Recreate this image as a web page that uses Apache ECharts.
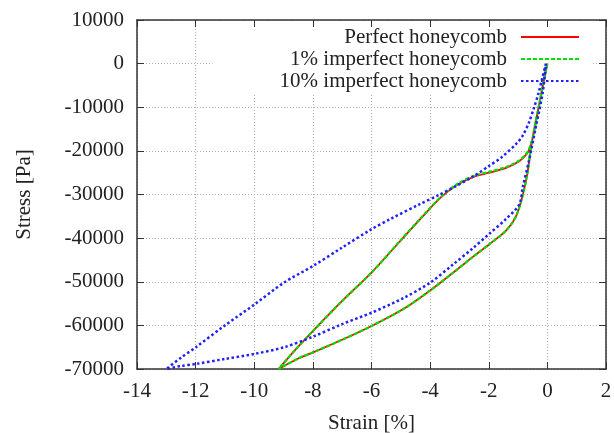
<!DOCTYPE html>
<html>
<head>
<meta charset="utf-8">
<script src="https://cdn.jsdelivr.net/npm/echarts@6/dist/echarts.min.js"></script>
<style>
  html, body { margin: 0; padding: 0; background: #fff; }
  #chart { width: 614px; height: 433px; }
</style>
</head>
<body>
<div id="chart"></div>
<script>
// Stress-strain loops: loading branch then unloading branch, in path order.
const seriesNames = ['Perfect honeycomb', '1% imperfect honeycomb', '10% imperfect honeycomb'];

const perfectStrain = [0, -0.12, -0.25, -0.38, -0.5, -0.57, -0.68, -0.96, -1.41, -1.98, -2.54, -3.1, -3.67, -4.33, -5.01, -6.0, -7.0, -8.0, -8.6, -9.17,
  -8.5, -8.0, -7.0, -6.0, -4.9, -4.0, -3.21, -2.54, -1.98, -1.41, -1.07, -0.85, -0.68, -0.57, -0.42, -0.27, -0.13, 0];
const perfectStress = [0, -4000, -8500, -13000, -17000, -18700, -20500, -22400, -23900, -25000, -26000, -27900, -30900, -35600, -40600, -47900, -54400, -61300, -65600, -70000,
  -67600, -66200, -63300, -60150, -56200, -52000, -47900, -44300, -41400, -38300, -35000, -30400, -25100, -19700, -14000, -9000, -4000, 0];

const imperf1Strain = [0, -0.12, -0.25, -0.38, -0.5, -0.57, -0.68, -0.96, -1.41, -1.98, -2.54, -3.1, -3.67, -4.33, -5.01, -6.0, -7.0, -8.0, -8.6, -9.17,
  -8.5, -8.0, -7.0, -6.0, -4.9, -4.0, -3.21, -2.54, -1.98, -1.41, -1.07, -0.85, -0.68, -0.57, -0.42, -0.27, -0.13, 0];
const imperf1Stress = [0, -4000, -8500, -13000, -17000, -18600, -20300, -22200, -23700, -24800, -25800, -27700, -30800, -35500, -40500, -47900, -54400, -61300, -65600, -70000,
  -67600, -66200, -63300, -60150, -56200, -52000, -47900, -44300, -41400, -38300, -35000, -30400, -25100, -19700, -14000, -9000, -4000, 0];

const imperf10Strain = [-0.05, -0.18, -0.3, -0.45, -0.63, -0.85, -1.05, -1.55, -2.0, -2.54, -3.21, -3.67, -4.38, -5.35, -6.0, -7.0, -8.0, -9.0, -10.0, -11.0, -12.0, -12.5, -13.0,
  -12.5, -12.0, -11.0, -10.0, -9.0, -8.0, -7.0, -6.0, -4.9, -4.0, -3.21, -2.54, -1.98, -1.41, -0.96, -0.84, -0.62, -0.39, -0.16, -0.05];
const imperf10Stress = [0, -3500, -6700, -10000, -13500, -16600, -18300, -21400, -23500, -25900, -28400, -30000, -32300, -35600, -37950, -42150, -46400, -50250, -55250, -60000, -65050, -67400, -70000,
  -69300, -68850, -67700, -66550, -65050, -62600, -59700, -57100, -53700, -50200, -46000, -42300, -39000, -35600, -32300, -28300, -22000, -14400, -6700, 0];

const strainTicks = { min: -14, max: 2, step: 2 };
const stressTicks = { min: -70000, max: 10000, step: 10000 };

const TEXT = '#222';
const SERIF = 'Times New Roman';

function pairs(xs, ys) { return xs.map((x, i) => [x, ys[i]]); }

const chart = echarts.init(document.getElementById('chart'), null, { renderer: 'canvas' });

const tickStyle = { show: true, inside: true, length: 7, lineStyle: { color: '#333', width: 1 } };
const axisLineStyle = { show: true, onZero: false, lineStyle: { color: '#333', width: 1.5 } };
const gridLine = { show: true, lineStyle: { color: '#b0b0b0', width: 1, type: [1, 2] } };
const textOf = family => ({ fontFamily: family, fontSize: 21, color: TEXT });

chart.setOption({
  animation: false,
  backgroundColor: '#fff',
  textStyle: { fontFamily: SERIF },
  grid: { left: 137, right: 8, top: 20, bottom: 64, outerBoundsMode: 'none', containLabel: false },
  legend: {
    orient: 'vertical',
    right: 22,
    top: 26,
    align: 'right',
    itemWidth: 58,
    itemHeight: 14,
    itemGap: 0,
    padding: [0, 12, 1, 67],
    backgroundColor: '#fff',
    z: 4,
    itemStyle: { opacity: 0 },
    textStyle: Object.assign({ lineHeight: 22, padding: [0, 9, 0, 0] }, textOf('Liberation Serif')),
    data: seriesNames
  },
  xAxis: [{
    type: 'value',
    min: strainTicks.min, max: strainTicks.max, interval: strainTicks.step,
    name: 'Strain [%]', nameLocation: 'middle', nameGap: 44,
    nameTextStyle: textOf(SERIF),
    axisLine: axisLineStyle, axisTick: tickStyle,
    axisLabel: Object.assign({ margin: 12, formatter: v => String(v) }, textOf(SERIF)),
    splitLine: gridLine
  }, {
    type: 'value', position: 'top', z: 8,
    min: strainTicks.min, max: strainTicks.max, interval: strainTicks.step,
    axisLine: axisLineStyle, axisTick: tickStyle,
    axisLabel: { show: false }, splitLine: { show: false }
  }],
  yAxis: [{
    type: 'value',
    min: stressTicks.min, max: stressTicks.max, interval: stressTicks.step,
    name: 'Stress [Pa]', nameLocation: 'middle', nameGap: 102, nameRotate: 90,
    nameTextStyle: textOf(SERIF),
    axisLine: axisLineStyle, axisTick: tickStyle,
    axisLabel: Object.assign({ margin: 13, formatter: v => String(v) }, textOf(SERIF)),
    splitLine: gridLine
  }, {
    type: 'value', position: 'right', z: 8,
    min: stressTicks.min, max: stressTicks.max, interval: stressTicks.step,
    axisLine: axisLineStyle, axisTick: tickStyle,
    axisLabel: { show: false }, splitLine: { show: false }
  }],
  series: [{
    name: seriesNames[0], type: 'line', symbol: 'none', z: 5, smooth: 0.3,
    data: pairs(perfectStrain, perfectStress),
    lineStyle: { color: '#ff0000', width: 1.8, type: 'solid' },
    itemStyle: { color: '#ff0000' }
  }, {
    name: seriesNames[1], type: 'line', symbol: 'none', z: 6, smooth: 0.3,
    data: pairs(imperf1Strain, imperf1Stress),
    lineStyle: { color: '#00e000', width: 2.2, type: [4, 2] },
    itemStyle: { color: '#00e000' }
  }, {
    name: seriesNames[2], type: 'line', symbol: 'none', z: 7, smooth: 0.3,
    data: pairs(imperf10Strain, imperf10Stress),
    lineStyle: { color: '#2020ff', width: 2.5, type: [2.5, 2.5] },
    itemStyle: { color: '#2020ff' }
  }]
});
</script>
</body>
</html>
